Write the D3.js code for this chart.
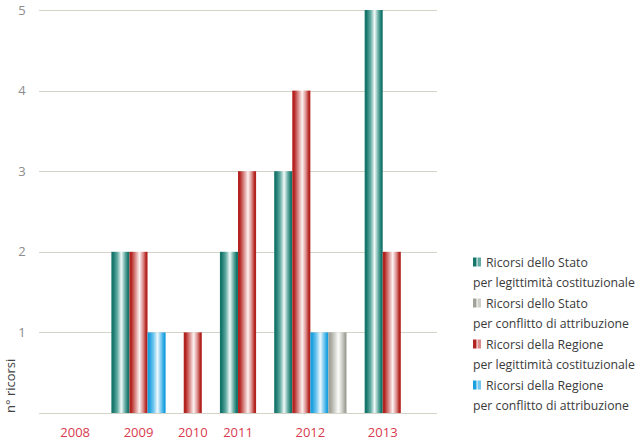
<!DOCTYPE html>
<html><head><meta charset="utf-8">
<script src="https://cdn.jsdelivr.net/npm/d3@7"></script>
<style>
body{margin:0;background:#fff;}
svg{display:block;font-family:"Open Sans","Noto Sans",sans-serif;}
</style>
</head><body>
<svg id="chart" width="640" height="441"></svg>
<script>
// ---- data ----
const years = ["2008", "2009", "2010", "2011", "2012", "2013"];
const statoLegittimita   = [0, 2, 0, 2, 3, 5];
const statoConflitto     = [0, 0, 0, 0, 1, 0];
const regioneLegittimita = [0, 2, 1, 3, 4, 2];
const regioneConflitto   = [0, 1, 0, 0, 1, 0];
const yTicks = [1, 2, 3, 4, 5];
const legendLabels = [
  ["Ricorsi dello Stato", "per legittimità costituzionale"],
  ["Ricorsi dello Stato", "per conflitto di attribuzione"],
  ["Ricorsi della Regione", "per legittimità costituzionale"],
  ["Ricorsi della Regione", "per conflitto di attribuzione"]
];
const yTitle = "n° ricorsi";

// ---- styles ----
const series = [
  {key: "sl", values: statoLegittimita,   dark: "#17766c", mid: "#63aca3", light: "#f2faf9"},
  {key: "sc", values: statoConflitto,     dark: "#a2a29a", mid: "#cfcfc9", light: "#fbfbfa"},
  {key: "rl", values: regioneLegittimita, dark: "#b3231f", mid: "#da8c8a", light: "#fdf3f3"},
  {key: "rc", values: regioneConflitto,   dark: "#1a9fdf", mid: "#72c6ef", light: "#eef9fe"}
];
const drawOrder = ["sl", "rl", "rc", "sc"];
const byKey = Object.fromEntries(series.map(s => [s.key, s]));

const svg = d3.select("#chart");
const plotLeft = 39, plotRight = 437, plotTop = 10, plotBottom = 413;

// gradients
const defs = svg.append("defs");
series.forEach(s => {
  const g = defs.append("linearGradient").attr("id", "g-" + s.key)
    .attr("x1", 0).attr("x2", 1).attr("y1", 0).attr("y2", 0);
  [[0, s.dark], [0.1, s.dark], [0.33, s.mid], [0.55, s.light], [0.76, s.mid], [0.92, s.dark], [1, s.dark]]
    .forEach(([o, c]) => g.append("stop").attr("offset", o).attr("stop-color", c));
});

// slot layout: bars of each year side by side, one empty slot between years
const slots = ["pad-l"];
const bars = [];
const groupSlots = {};
years.forEach((yr, i) => {
  const present = drawOrder.filter(k => byKey[k].values[i] > 0);
  const keys = [];
  if (present.length === 0) {
    keys.push(yr + "-e0", yr + "-e1");
  } else {
    present.forEach(k => {
      keys.push(yr + "-" + k);
      bars.push({slot: yr + "-" + k, key: k, value: byKey[k].values[i]});
    });
  }
  keys.forEach(k => slots.push(k));
  groupSlots[yr] = keys;
  if (i < years.length - 1) slots.push(yr + "-gap");
});
slots.push("pad-r0", "pad-r1");

const x = d3.scaleBand().domain(slots).range([plotLeft, plotRight]).padding(0);
const y = d3.scaleLinear().domain([0, 5]).range([plotBottom, plotTop]);

// grid
svg.append("g").selectAll("line").data([0].concat(yTicks)).join("line")
  .attr("x1", plotLeft).attr("x2", plotRight)
  .attr("y1", d => Math.round(y(d)) + 0.5).attr("y2", d => Math.round(y(d)) + 0.5)
  .attr("stroke", "#d3d3c7").attr("stroke-width", 1);

// y tick labels
svg.append("g").selectAll("text").data(yTicks).join("text")
  .attr("x", 22).attr("y", d => y(d) + 4.5)
  .attr("text-anchor", "middle").attr("font-size", 13).attr("fill", "#8c8c8c")
  .text(d => d);

// y title
svg.append("text")
  .attr("transform", `translate(15,${plotBottom}) rotate(-90)`)
  .attr("font-size", 13).attr("fill", "#444")
  .text(yTitle);

// bars
svg.append("g").selectAll("rect").data(bars).join("rect")
  .attr("x", d => x(d.slot)).attr("width", x.bandwidth())
  .attr("y", d => y(d.value)).attr("height", d => y(0) - y(d.value))
  .attr("fill", d => `url(#g-${d.key})`);

// x labels
svg.append("g").selectAll("text").data(years).join("text")
  .attr("x", yr => {
    const ks = groupSlots[yr];
    return (x(ks[0]) + x(ks[ks.length - 1]) + x.bandwidth()) / 2;
  })
  .attr("y", 437).attr("text-anchor", "middle")
  .attr("font-size", 13).attr("fill", "#d83a4e")
  .text(d => d);

// legend: font size fitted so the longest line spans the reference width
const probe = svg.append("text").attr("font-size", 13).text(legendLabels[0][1]);
const legendFont = Math.min(13, 13 * 162 / probe.node().getComputedTextLength());
probe.remove();

const legendKeys = ["sl", "sc", "rl", "rc"];
const lg = svg.append("g").selectAll("g").data(legendKeys).join("g")
  .attr("transform", (d, i) => `translate(473,${262 + i * 41})`);
lg.append("rect").attr("x", 0).attr("y", -4.5).attr("width", 3.5).attr("height", 9)
  .attr("fill", d => byKey[d].dark);
lg.append("rect").attr("x", 4.5).attr("y", -4.5).attr("width", 3.5).attr("height", 9)
  .attr("fill", d => byKey[d].mid);
lg.append("text").attr("x", 13).attr("y", 4.5)
  .attr("font-size", legendFont).attr("fill", "#3a3a3a")
  .text((d, i) => legendLabels[i][0]);
lg.append("text").attr("x", 0).attr("y", 25)
  .attr("font-size", legendFont).attr("fill", "#3a3a3a")
  .text((d, i) => legendLabels[i][1]);
</script>
</body></html>
